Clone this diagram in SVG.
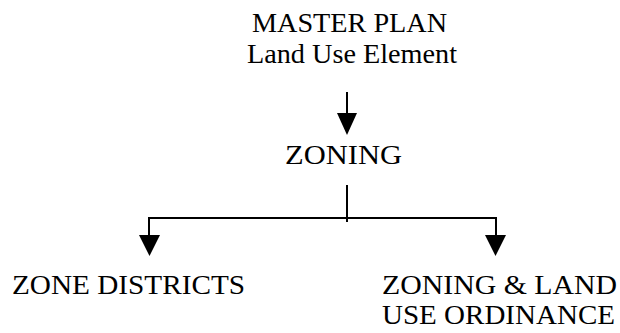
<svg xmlns="http://www.w3.org/2000/svg" width="620" height="333" viewBox="0 0 620 333">
<style>
text{font-family:"Liberation Serif","Times New Roman",serif;font-size:28px;fill:#000}
.ln{stroke:#000;stroke-width:2;fill:none}
.ah{fill:#000}
</style>
<rect width="620" height="333" fill="#fff"/>
<g id="master-plan">
<text x="252" y="32" textLength="195" lengthAdjust="spacingAndGlyphs">MASTER PLAN</text>
<text x="247" y="63" textLength="210" lengthAdjust="spacingAndGlyphs">Land Use Element</text>
</g>
<g id="zoning">
<text x="285" y="164" textLength="117" lengthAdjust="spacingAndGlyphs">ZONING</text>
</g>
<g id="zone-districts">
<text x="12" y="294" textLength="233" lengthAdjust="spacingAndGlyphs">ZONE DISTRICTS</text>
</g>
<g id="ordinance">
<text x="382" y="294" textLength="235" lengthAdjust="spacingAndGlyphs">ZONING &amp; LAND</text>
<text x="382" y="324" textLength="233" lengthAdjust="spacingAndGlyphs">USE ORDINANCE</text>
</g>
<g id="connectors">
<line class="ln" x1="347" y1="92" x2="347" y2="114"/>
<polygon class="ah" points="337,113 357,113 347,135"/>
<line class="ln" x1="347" y1="185" x2="347" y2="222"/>
<polyline class="ln" points="149,236 149,218 496,218 496,236"/>
<polygon class="ah" points="139,235 160,235 149.5,256"/>
<polygon class="ah" points="485,235 506,235 495.5,256"/>
</g>
</svg>
